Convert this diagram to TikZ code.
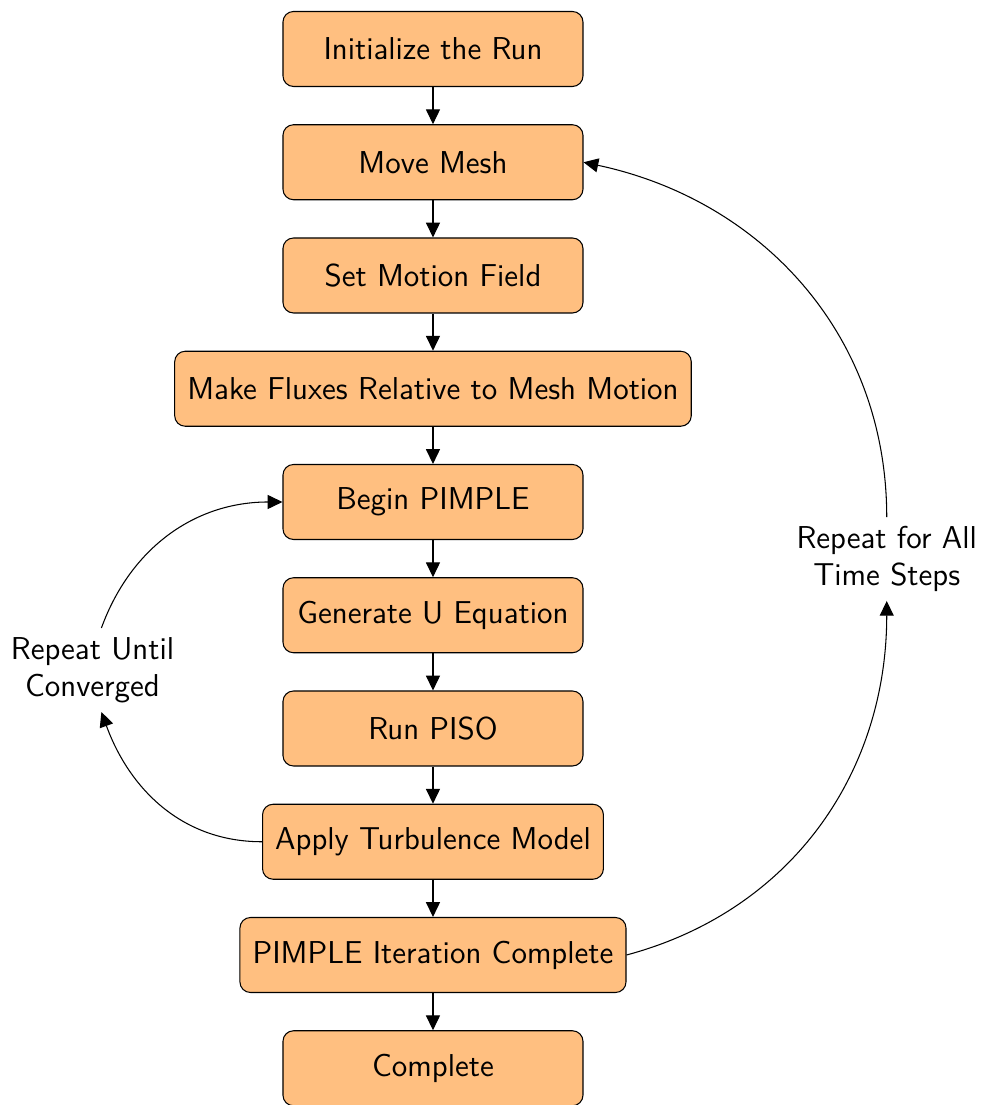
\documentclass[tikz,border=0pt]{standalone}
\usepackage{tikz}
\usetikzlibrary{arrows.meta,positioning}
\renewcommand{\familydefault}{\sfdefault}
\tikzset{stepbox/.style={draw, rounded corners, fill=orange!50, minimum width=4cm, minimum height=1cm, inner xsep=4.8pt, font=\large},
         flow/.style={-{Triangle[length=5.6pt,width=5.3pt]}}}

\begin{document}
\begin{tikzpicture}
    \useasboundingbox (-5.773,0.653) rectangle (7.347,-14.08);
    \foreach \i/\t in {0/Initialize the Run,
                       1/Move Mesh,
                       2/Set Motion Field,
                       3/Make Fluxes Relative to Mesh Motion,
                       4/Begin PIMPLE,
                       5/Generate U Equation,
                       6/Run PISO,
                       7/Apply Turbulence Model,
                       8/PIMPLE Iteration Complete,
                       9/Complete}
      { \node[stepbox] (s\i) at (0,-\i*1.51) {\t}; }
    \foreach \i [count=\j from 1] in {0,...,8}
      { \draw[flow] (s\i) -- (s\j); }
    % loop labels
    \node[align=center, font=\large] (conv) at (-4.54,-8.28) {Repeat Until\\Converged};
    \node[align=center, font=\large] (steps) at (6.05,-6.8) {Repeat for All\\Time Steps};
    \draw[flow] (s7.west) to[out=180,in=-70] (conv.-78);
    \draw[flow] (conv.78) to[out=70,in=180] (s4.west);
    \draw[flow] (s8.east) to[out=15,in=-90] (steps.south);
    \draw[flow] (steps.north) to[out=90,in=-12] (s1.east);
  \end{tikzpicture}
\end{document}
